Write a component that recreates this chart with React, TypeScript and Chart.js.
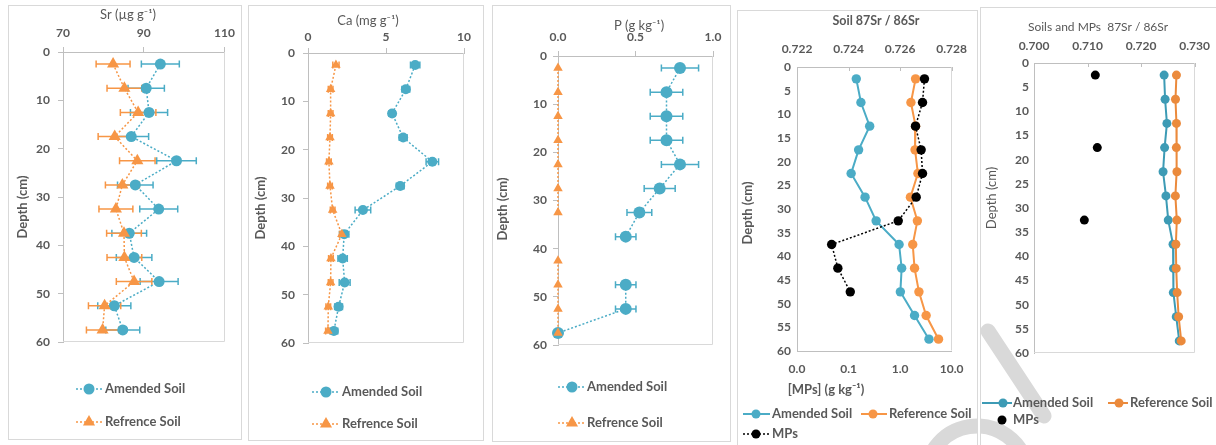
import { useEffect, useRef } from 'react';
import { Chart, registerables } from 'chart.js';

Chart.register(...registerables);

// ---------------- data ----------------
const DEPTHS = [2.5, 7.5, 12.5, 17.5, 22.5, 27.5, 32.5, 37.5, 42.5, 47.5, 52.5, 57.5];
const DEPTH_TICKS_10 = [0, 10, 20, 30, 40, 50, 60];
const DEPTH_TICKS_5 = [0, 5, 10, 15, 20, 25, 30, 35, 40, 45, 50, 55, 60];

const SR_TICKS = [70, 90, 110];
const SR_AMENDED = [94.1, 90.6, 91.3, 86.9, 98.1, 87.9, 93.7, 86.4, 87.6, 93.8, 82.7, 84.8];
const SR_AMENDED_ERR = [4.7, 4.5, 4.6, 4.3, 4.9, 4.4, 4.7, 4.3, 4.4, 4.7, 4.1, 4.2];
const SR_REF = [82.4, 85.2, 88.6, 82.8, 88.4, 84.7, 83.1, 85.1, 85.2, 87.6, 80.3, 79.8];
const SR_REF_ERR = [4.2, 4.3, 4.4, 4.1, 4.4, 4.2, 4.2, 4.3, 4.3, 4.4, 4.0, 4.0];

const CA_TICKS = [0, 5, 10];
const CA_AMENDED = [6.87, 6.27, 5.39, 6.1, 7.97, 5.91, 3.52, 2.32, 2.22, 2.35, 1.96, 1.66];
const CA_AMENDED_ERR = [0.3, 0.25, 0.2, 0.25, 0.4, 0.25, 0.5, 0.3, 0.3, 0.35, 0.25, 0.25];
const CA_REF = [1.79, 1.45, 1.45, 1.41, 1.34, 1.41, 1.58, 2.17, 1.47, 1.45, 1.3, 1.28];
const CA_REF_ERR = [0.2, 0.15, 0.15, 0.15, 0.15, 0.15, 0.15, 0.15, 0.15, 0.15, 0.15, 0.15];

const P_TICKS = [0, 0.5, 1.0];
const P_AMENDED = [0.787, 0.7, 0.7, 0.7, 0.787, 0.656, 0.525, 0.437, null, 0.437, 0.437, 0.0];
const P_AMENDED_ERR = [0.12, 0.105, 0.105, 0.105, 0.12, 0.1, 0.08, 0.066, 0, 0.066, 0.066, 0];
const P_REF = [0, 0, 0, 0, 0, 0, 0, null, 0, 0, 0, 0];

const SOIL_RATIO_TICKS = [0.722, 0.724, 0.726, 0.728];
const MPS_CONC_TICKS = [0.01, 0.1, 1, 10];
const ALL_RATIO_TICKS = [0.7, 0.71, 0.72, 0.73];
const SOIL_SR_AMENDED = [0.7243, 0.72448, 0.72482, 0.72439, 0.7241, 0.72464, 0.72507, 0.72596, 0.72606, 0.72601, 0.72656, 0.72712];
const SOIL_SR_REF = [0.7266, 0.72642, 0.7266, 0.72658, 0.72669, 0.7264, 0.72667, 0.72649, 0.72656, 0.72673, 0.72701, 0.72749];
const MPS_CONC = [2.97, 2.72, 1.99, 2.56, 2.72, 2.05, 0.92, 0.047, 0.062, 0.108, null, null];
const MPS_SR = [0.71145, null, null, 0.71182, null, null, 0.7094, null, null, null, null, null];

// ---------------- styles ----------------
const FONT = 'Lato, "Open Sans", sans-serif';
const TEXT = '#595959';
const AXIS = '#BFBFBF';
const FRAME = '#D9D9D9';
const WATERMARK = '#D9D9D9';
const TEAL = '#4BACC6';
const ORANGE = '#F79646';
const TEAL5 = '#3D9BB5';
const ORANGE5 = '#EB8A3C';

type Box = { x: number; y: number; w: number; h: number };
type Area = { left: number; top: number; right: number; bottom: number };
type LegendItem = { ds: number; label: string; x0?: number; x1?: number; mx: number; tx: number; y: number; r: number };
type TitleItem = { text: string; x: number; y: number; font: string; rotate?: boolean };

function pts(values: (number | null)[]) {
  return DEPTHS.map((d, i) => ({ x: values[i], y: d }));
}

function drawMarker(ctx: CanvasRenderingContext2D, style: string, x: number, y: number, r: number, color: string) {
  ctx.save();
  ctx.setLineDash([]);
  ctx.fillStyle = color;
  ctx.beginPath();
  if (style === 'triangle') {
    ctx.moveTo(x, y - r);
    ctx.lineTo(x + r * Math.sin((2 * Math.PI) / 3), y - r * Math.cos((2 * Math.PI) / 3));
    ctx.lineTo(x + r * Math.sin((4 * Math.PI) / 3), y - r * Math.cos((4 * Math.PI) / 3));
    ctx.closePath();
  } else {
    ctx.arc(x, y, r, 0, Math.PI * 2);
  }
  ctx.fill();
  ctx.restore();
}

// page-level decorative watermark strokes (light grey), drawn in each panel that it crosses
function drawWatermark(ctx: CanvasRenderingContext2D, box: Box) {
  ctx.save();
  ctx.translate(-box.x, -box.y);
  ctx.strokeStyle = WATERMARK;
  ctx.lineWidth = 15;
  ctx.lineCap = 'round';
  ctx.setLineDash([]);
  ctx.beginPath();
  ctx.moveTo(988, 331);
  ctx.lineTo(1044, 416);
  ctx.stroke();
  ctx.lineCap = 'butt';
  ctx.beginPath();
  ctx.arc(977, 477, 51, Math.PI * 0.95, Math.PI * 2.05);
  ctx.stroke();
  ctx.restore();
}

function makePlugins(opts: {
  box: Box;
  legend: LegendItem[];
  titles: TitleItem[];
  innerTopTicks?: boolean;
  rightEdge?: boolean;
  bottomEdge?: boolean;
  watermark?: boolean;
}) {
  return [
    {
      id: 'errorBars',
      beforeDatasetsDraw(chart: any) {
        const ctx = chart.ctx as CanvasRenderingContext2D;
        chart.data.datasets.forEach((ds: any, di: number) => {
          if (!ds.errors) return;
          const meta = chart.getDatasetMeta(di);
          const xs = meta.xScale;
          const ys = meta.yScale;
          ctx.save();
          ctx.strokeStyle = ds.borderColor;
          ctx.lineWidth = 1.5;
          ctx.setLineDash([]);
          ds.data.forEach((p: any, i: number) => {
            const e = ds.errors[i];
            if (p.x == null || !e) return;
            const xl = xs.getPixelForValue(p.x - e);
            const xr = xs.getPixelForValue(p.x + e);
            const y = ys.getPixelForValue(p.y);
            ctx.beginPath();
            ctx.moveTo(xl, y);
            ctx.lineTo(xr, y);
            ctx.moveTo(xl, y - 3.5);
            ctx.lineTo(xl, y + 3.5);
            ctx.moveTo(xr, y - 3.5);
            ctx.lineTo(xr, y + 3.5);
            ctx.stroke();
          });
          ctx.restore();
        });
      },
    },
    {
      id: 'frames',
      beforeDatasetsDraw(chart: any) {
        const ctx = chart.ctx as CanvasRenderingContext2D;
        const a = chart.chartArea;
        ctx.save();
        ctx.strokeStyle = FRAME;
        ctx.lineWidth = 1;
        ctx.setLineDash([]);
        ctx.beginPath();
        const r = Math.round(a.right) - 0.5;
        const b = Math.round(a.bottom) - 0.5;
        if (opts.rightEdge !== false) {
          ctx.moveTo(r, Math.round(a.top));
          ctx.lineTo(r, b);
        }
        if (opts.bottomEdge !== false) {
          ctx.moveTo(Math.round(a.left), b);
          ctx.lineTo(r, b);
        }
        ctx.stroke();
        if (opts.innerTopTicks) {
          const xs = chart.scales.x;
          ctx.strokeStyle = AXIS;
          ctx.beginPath();
          xs.ticks.forEach((t: any) => {
            const px = Math.round(xs.getPixelForValue(t.value)) + 0.5;
            ctx.moveTo(px, a.top);
            ctx.lineTo(px, a.top + 4);
          });
          ctx.stroke();
        }
        ctx.restore();
        if (opts.watermark) drawWatermark(ctx, opts.box);
      },
      afterDraw(chart: any) {
        const ctx = chart.ctx as CanvasRenderingContext2D;
        ctx.save();
        ctx.strokeStyle = FRAME;
        ctx.lineWidth = 1;
        ctx.setLineDash([]);
        ctx.strokeRect(0.5, 0.5, opts.box.w - 1, opts.box.h - 1);
        ctx.restore();
      },
    },
    {
      id: 'axisTitles',
      afterDraw(chart: any) {
        const ctx = chart.ctx as CanvasRenderingContext2D;
        opts.titles.forEach((t) => {
          ctx.save();
          ctx.fillStyle = TEXT;
          ctx.font = t.font;
          ctx.textAlign = 'center';
          ctx.textBaseline = 'middle';
          ctx.translate(t.x, t.y);
          if (t.rotate) ctx.rotate(-Math.PI / 2);
          ctx.fillText(t.text, 0, 0);
          ctx.restore();
        });
      },
    },
    {
      id: 'customLegend',
      afterDraw(chart: any) {
        const ctx = chart.ctx as CanvasRenderingContext2D;
        opts.legend.forEach((it) => {
          const ds = chart.data.datasets[it.ds];
          ctx.save();
          if (it.x0 != null && it.x1 != null) {
            ctx.strokeStyle = ds.borderColor;
            ctx.lineWidth = ds.borderWidth;
            ctx.setLineDash(ds.borderDash || []);
            ctx.beginPath();
            ctx.moveTo(it.x0, it.y);
            ctx.lineTo(it.x1, it.y);
            ctx.stroke();
          }
          drawMarker(ctx, ds.pointStyle, it.mx, it.y, it.r, ds.pointBackgroundColor);
          ctx.fillStyle = TEXT;
          ctx.font = `bold 13px ${FONT}`;
          ctx.textBaseline = 'middle';
          ctx.textAlign = 'left';
          ctx.fillText(it.label, it.tx, it.y);
          ctx.restore();
        });
      },
    },
  ];
}

function depthAxis(width: number, ticks: number[], tickLen: number, pad: number) {
  return {
    type: 'linear',
    position: 'left',
    reverse: true,
    min: 0,
    max: 60,
    afterFit: (s: any) => {
      s.width = width;
    },
    afterBuildTicks: (s: any) => {
      s.ticks = ticks.map((v) => ({ value: v }));
    },
    grid: { drawOnChartArea: false, drawTicks: tickLen > 0, tickLength: tickLen, color: AXIS, lineWidth: 1 },
    border: { display: true, color: AXIS, width: 1 },
    ticks: { color: TEXT, font: { family: FONT, size: 12, weight: 'bold' }, padding: pad, autoSkip: false },
    title: { display: false },
  };
}

function valueAxis(p: {
  position: 'top' | 'bottom';
  type?: string;
  min: number;
  max: number;
  ticks: number[];
  height: number;
  tickLen: number;
  pad: number;
  decimals: number;
}) {
  return {
    type: p.type || 'linear',
    position: p.position,
    min: p.min,
    max: p.max,
    afterFit: (s: any) => {
      s.height = p.height;
    },
    afterBuildTicks: (s: any) => {
      s.ticks = p.ticks.map((v) => ({ value: v }));
    },
    grid: { drawOnChartArea: false, drawTicks: p.tickLen > 0, tickLength: p.tickLen, color: AXIS, lineWidth: 1 },
    border: { display: true, color: AXIS, width: 1 },
    ticks: {
      color: TEXT,
      font: { family: FONT, size: 12, weight: 'bold' },
      padding: p.pad,
      autoSkip: false,
      maxRotation: 0,
      callback: (v: any) => Number(v).toFixed(p.decimals),
    },
    title: { display: false },
  };
}

function dotted(label: string, values: (number | null)[], errors: number[] | null, color: string, style: string, r: number, order: number) {
  return {
    label,
    data: pts(values),
    errors,
    showLine: true,
    spanGaps: false,
    clip: false,
    borderColor: color,
    backgroundColor: color,
    pointBackgroundColor: color,
    pointBorderColor: color,
    borderWidth: 1.5,
    borderDash: [2, 2],
    pointStyle: style,
    pointRadius: r,
    pointBorderWidth: 0,
    order,
  };
}

function solid(label: string, values: (number | null)[], color: string, r: number, order: number, width: number) {
  return {
    label,
    data: pts(values),
    showLine: true,
    spanGaps: false,
    clip: false,
    borderColor: color,
    backgroundColor: color,
    pointBackgroundColor: color,
    pointBorderColor: color,
    borderWidth: width,
    pointStyle: 'circle',
    pointRadius: r,
    pointBorderWidth: 0,
    order,
  };
}

function baseOptions(box: Box, area: Area, bottomExtra: number, scales: any) {
  return {
    responsive: false,
    animation: false,
    events: [],
    layout: { padding: { left: 0, top: 0, right: box.w - area.right, bottom: box.h - area.bottom - bottomExtra } },
    plugins: { legend: { display: false }, tooltip: { enabled: false }, title: { display: false } },
    scales,
  };
}

const DEPTH_FONT_BOLD = `bold 13px ${FONT}`;
const DEPTH_FONT_NORMAL = `13px ${FONT}`;
const TOP_TITLE_FONT = `13px ${FONT}`;

type PanelSpec = { box: Box; build: () => any };

const PANELS: PanelSpec[] = [
  {
    box: { x: 8, y: 5, w: 234, h: 435 },
    build: () => {
      const box = { x: 8, y: 5, w: 234, h: 435 };
      const area = { left: 55, top: 47, right: 218, bottom: 337 };
      return {
        type: 'scatter',
        data: {
          datasets: [
            dotted('Amended Soil', SR_AMENDED, SR_AMENDED_ERR, TEAL, 'circle', 5.5, 2),
            dotted('Refrence Soil', SR_REF, SR_REF_ERR, ORANGE, 'triangle', 7, 1),
          ],
        },
        options: baseOptions(box, area, 0, {
          x: valueAxis({ position: 'top', min: 70, max: 110, ticks: SR_TICKS, height: area.top, tickLen: 5, pad: 7, decimals: 0 }),
          y: depthAxis(area.left, DEPTH_TICKS_10, 5, 8),
        }),
        plugins: makePlugins({
          box,
          titles: [
            { text: 'Sr (µg g⁻¹)', x: 120, y: 10, font: TOP_TITLE_FONT },
            { text: 'Depth (cm)', x: 15, y: 202, font: DEPTH_FONT_BOLD, rotate: true },
          ],
          legend: [
            { ds: 0, label: 'Amended Soil', x0: 68, x1: 95, mx: 81, tx: 97, y: 384, r: 5.5 },
            { ds: 1, label: 'Refrence Soil', x0: 68, x1: 95, mx: 81, tx: 97, y: 417, r: 7 },
          ],
        }),
      };
    },
  },
  {
    box: { x: 248, y: 5, w: 236, h: 436 },
    build: () => {
      const box = { x: 248, y: 5, w: 236, h: 436 };
      const area = { left: 60, top: 48, right: 216, bottom: 338 };
      return {
        type: 'scatter',
        data: {
          datasets: [
            dotted('Amended Soil', CA_AMENDED, CA_AMENDED_ERR, TEAL, 'circle', 5, 2),
            dotted('Refrence Soil', CA_REF, CA_REF_ERR, ORANGE, 'triangle', 5.5, 1),
          ],
        },
        options: baseOptions(box, area, 0, {
          x: valueAxis({ position: 'top', min: 0, max: 10, ticks: CA_TICKS, height: area.top, tickLen: 5, pad: 4, decimals: 0 }),
          y: depthAxis(area.left, DEPTH_TICKS_10, 5, 8),
        }),
        plugins: makePlugins({
          box,
          titles: [
            { text: 'Ca (mg g⁻¹)', x: 120, y: 16, font: TOP_TITLE_FONT },
            { text: 'Depth (cm)', x: 13, y: 203, font: DEPTH_FONT_BOLD, rotate: true },
          ],
          legend: [
            { ds: 0, label: 'Amended Soil', x0: 64, x1: 91, mx: 78, tx: 94, y: 387, r: 5.5 },
            { ds: 1, label: 'Refrence Soil', x0: 64, x1: 91, mx: 78, tx: 94, y: 419, r: 7 },
          ],
        }),
      };
    },
  },
  {
    box: { x: 492, y: 5, w: 239, h: 437 },
    build: () => {
      const box = { x: 492, y: 5, w: 239, h: 437 };
      const area = { left: 66, top: 51, right: 221, bottom: 340 };
      return {
        type: 'scatter',
        data: {
          datasets: [
            dotted('Amended Soil', P_AMENDED, P_AMENDED_ERR, TEAL, 'circle', 6, 2),
            dotted('Refrence Soil', P_REF, null, ORANGE, 'triangle', 5.5, 1),
          ],
        },
        options: baseOptions(box, area, 0, {
          x: valueAxis({ position: 'top', min: 0, max: 1, ticks: P_TICKS, height: area.top, tickLen: 5, pad: 7, decimals: 1 }),
          y: depthAxis(area.left, DEPTH_TICKS_10, 5, 6),
        }),
        plugins: makePlugins({
          box,
          titles: [
            { text: 'P (g kg⁻¹)', x: 147, y: 21, font: TOP_TITLE_FONT },
            { text: 'Depth (cm)', x: 11, y: 204, font: DEPTH_FONT_BOLD, rotate: true },
          ],
          legend: [
            { ds: 0, label: 'Amended Soil', x0: 66, x1: 93, mx: 80, tx: 95, y: 382, r: 5.5 },
            { ds: 1, label: 'Refrence Soil', x0: 66, x1: 93, mx: 80, tx: 95, y: 418, r: 7 },
          ],
        }),
      };
    },
  },
  {
    box: { x: 737, y: 10, w: 241, h: 436 },
    build: () => {
      const box = { x: 737, y: 10, w: 241, h: 436 };
      const area = { left: 60, top: 57, right: 215, bottom: 341 };
      const bottomH = 50;
      const mps = {
        label: 'MPs',
        data: pts(MPS_CONC),
        xAxisID: 'x2',
        showLine: true,
        spanGaps: false,
        clip: false,
        borderColor: '#000000',
        backgroundColor: '#000000',
        pointBackgroundColor: '#000000',
        pointBorderColor: '#000000',
        borderWidth: 1.5,
        borderDash: [2, 2],
        pointStyle: 'circle',
        pointRadius: 4.7,
        pointBorderWidth: 0,
        order: 0,
      };
      return {
        type: 'scatter',
        data: {
          datasets: [
            solid('Amended Soil', SOIL_SR_AMENDED, TEAL, 4.7, 2, 2),
            solid('Reference Soil', SOIL_SR_REF, ORANGE, 4.7, 1, 2),
            mps,
          ],
        },
        options: baseOptions(box, area, bottomH, {
          x: valueAxis({ position: 'top', min: 0.722, max: 0.728, ticks: SOIL_RATIO_TICKS, height: area.top, tickLen: 0, pad: 11, decimals: 3 }),
          x2: valueAxis({ position: 'bottom', type: 'logarithmic', min: 0.01, max: 10, ticks: MPS_CONC_TICKS, height: bottomH, tickLen: 0, pad: 11, decimals: 1 }),
          y: depthAxis(area.left, DEPTH_TICKS_5, 0, 6),
        }),
        plugins: makePlugins({
          box,
          innerTopTicks: true,
          bottomEdge: false,
          watermark: true,
          titles: [
            { text: 'Soil 87Sr / 86Sr', x: 139, y: 11, font: `bold 12.5px ${FONT}` },
            { text: '[MPs] (g kg⁻¹)', x: 89, y: 380, font: `bold 13px ${FONT}` },
            { text: 'Depth (cm)', x: 11, y: 203, font: DEPTH_FONT_BOLD, rotate: true },
          ],
          legend: [
            { ds: 0, label: 'Amended Soil', x0: 6, x1: 33, mx: 19, tx: 35, y: 404, r: 4.5 },
            { ds: 1, label: 'Reference Soil', x0: 124, x1: 150, mx: 136, tx: 152, y: 404, r: 4.5 },
            { ds: 2, label: 'MPs', x0: 6, x1: 33, mx: 19, tx: 35, y: 424, r: 4.5 },
          ],
        }),
      };
    },
  },
  {
    box: { x: 980, y: 7, w: 240, h: 443 },
    build: () => {
      const box = { x: 980, y: 7, w: 240, h: 443 };
      const area = { left: 54, top: 56, right: 216, bottom: 346 };
      const mps = {
        label: 'MPs',
        data: pts(MPS_SR),
        showLine: false,
        clip: false,
        borderColor: '#000000',
        backgroundColor: '#000000',
        pointBackgroundColor: '#000000',
        pointBorderColor: '#000000',
        borderWidth: 0,
        pointStyle: 'circle',
        pointRadius: 4.5,
        pointBorderWidth: 0,
        order: 0,
      };
      return {
        type: 'scatter',
        data: {
          datasets: [
            solid('Amended Soil', SOIL_SR_AMENDED, TEAL5, 4.5, 2, 2),
            solid('Reference Soil', SOIL_SR_REF, ORANGE5, 4.5, 1, 2),
            mps,
          ],
        },
        options: baseOptions(box, area, 0, {
          x: valueAxis({ position: 'top', min: 0.7, max: 0.73, ticks: ALL_RATIO_TICKS, height: area.top, tickLen: 0, pad: 10, decimals: 3 }),
          y: depthAxis(area.left, DEPTH_TICKS_5, 0, 5),
        }),
        plugins: makePlugins({
          box,
          innerTopTicks: true,
          watermark: true,
          titles: [
            { text: 'Soils and MPs  87Sr / 86Sr', x: 118, y: 20, font: `12px ${FONT}` },
            { text: 'Depth (cm)', x: 12, y: 191, font: DEPTH_FONT_NORMAL, rotate: true },
          ],
          legend: [
            { ds: 0, label: 'Amended Soil', x0: 2, x1: 32, mx: 23, tx: 33, y: 396, r: 4.5 },
            { ds: 1, label: 'Reference Soil', x0: 128, x1: 148, mx: 139, tx: 150, y: 396, r: 4.5 },
            { ds: 2, label: 'MPs', mx: 22, tx: 33, y: 413, r: 4.5 },
          ],
        }),
      };
    },
  },
];

function ChartPanel({ spec }: { spec: PanelSpec }) {
  const ref = useRef<HTMLCanvasElement | null>(null);
  useEffect(() => {
    const chart = new Chart(ref.current as HTMLCanvasElement, spec.build());
    return () => chart.destroy();
  }, [spec]);
  const { x, y, w, h } = spec.box;
  return (
    <canvas
      ref={ref}
      width={w}
      height={h}
      style={{ position: 'absolute', left: x, top: y, width: w, height: h, display: 'block' }}
    />
  );
}

export default function App() {
  return (
    <div
      style={{
        position: 'absolute',
        left: 0,
        top: 0,
        width: 1216,
        height: 445,
        overflow: 'hidden',
        background: '#ffffff',
      }}
    >
      {PANELS.map((p, i) => (
        <ChartPanel key={i} spec={p} />
      ))}
    </div>
  );
}
